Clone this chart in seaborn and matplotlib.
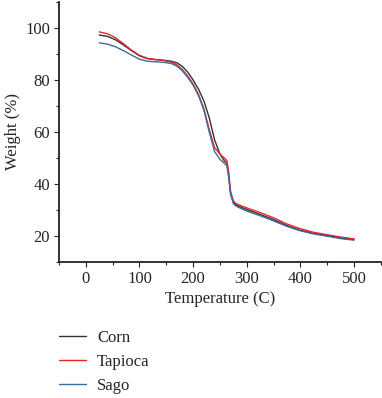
import matplotlib
matplotlib.use("Agg")
import matplotlib.pyplot as plt
from matplotlib.ticker import MultipleLocator
import seaborn as sns
import pandas as pd

temperature = [25, 40, 55, 70, 85, 100, 115, 130, 145, 160, 170, 180, 190, 200, 210, 220,
               230, 240, 250, 258, 263, 266, 270, 275, 280, 290, 300, 325, 350, 375, 400,
               425, 450, 475, 500]
corn = [97.3, 96.8, 95.5, 93.5, 91.3, 89.3, 88.2, 87.8, 87.6, 87.2, 86.6, 85.2, 83.0, 80.0,
        76.5, 72.0, 65.5, 57.0, 51.5, 49.0, 48.0, 44.0, 36.0, 33.0, 32.0, 31.0, 30.2, 28.3,
        26.3, 24.0, 22.2, 21.0, 20.2, 19.3, 18.6]
tapioca = [98.5, 97.8, 96.3, 94.0, 91.5, 89.5, 88.3, 87.9, 87.5, 86.8, 85.8, 84.0, 81.5, 78.5,
           74.5, 69.0, 61.0, 54.0, 51.5, 50.0, 49.0, 45.0, 37.0, 33.5, 32.5, 31.6, 30.8, 29.0,
           27.0, 24.6, 22.8, 21.4, 20.5, 19.6, 18.9]
sago = [94.3, 93.8, 92.8, 91.3, 89.6, 88.0, 87.2, 87.0, 86.8, 86.3, 85.3, 83.5, 81.0, 78.0,
        74.0, 68.5, 60.0, 52.5, 49.5, 48.0, 47.0, 43.0, 36.0, 32.5, 31.5, 30.5, 29.6, 27.8,
        25.8, 23.7, 22.0, 20.8, 19.9, 19.0, 18.4]
series_names = ["Corn", "Tapioca", "Sago"]
colors = ["#333333", "#e8262a", "#3b6a9c"]

df = pd.concat([
    pd.DataFrame({"Temperature": temperature, "Weight": w, "Sample": n})
    for n, w in zip(series_names, [corn, tapioca, sago])
])

sns.set_style("ticks")
plt.rcParams["font.family"] = ["Liberation Serif", "DejaVu Serif"]

FS = 12

fig = plt.figure(figsize=(3.82, 3.98), dpi=100)
ax = fig.add_axes([0.1545, 0.3417, 0.8425, 0.6533])
sns.lineplot(data=df, x="Temperature", y="Weight", hue="Sample",
             palette=dict(zip(series_names, colors)), linewidth=1.0, ax=ax, legend=False)

ax.set_xlim(-50, 550)
ax.set_ylim(10, 110)
ax.set_xticks([0, 100, 200, 300, 400, 500])
ax.set_yticks([20, 40, 60, 80, 100])
ax.xaxis.set_minor_locator(MultipleLocator(50))
ax.yaxis.set_minor_locator(MultipleLocator(10))
ax.tick_params(which="major", direction="out", length=3.5, width=0.8, labelsize=FS,
               color="#222222", pad=3)
ax.tick_params(which="minor", direction="out", length=2, width=0.8, color="#222222")
for s in ["top", "right"]:
    ax.spines[s].set_visible(False)
for s in ["left", "bottom"]:
    ax.spines[s].set_linewidth(1.3)
    ax.spines[s].set_color("#222222")
ax.set_xlabel("Temperature (C)", fontsize=FS, labelpad=3)
ax.set_ylabel("Weight (%)", fontsize=FS, labelpad=3)

handles = [plt.Line2D([], [], color=c, linewidth=1.0) for c in colors]
fig.legend(handles, series_names, loc="upper left", bbox_to_anchor=(0.1545, 0.172),
           frameon=False, borderpad=0, borderaxespad=0, handlelength=1.62,
           handletextpad=0.66, labelspacing=0.5, fontsize=FS)

fig.savefig("out.png", dpi=100)
